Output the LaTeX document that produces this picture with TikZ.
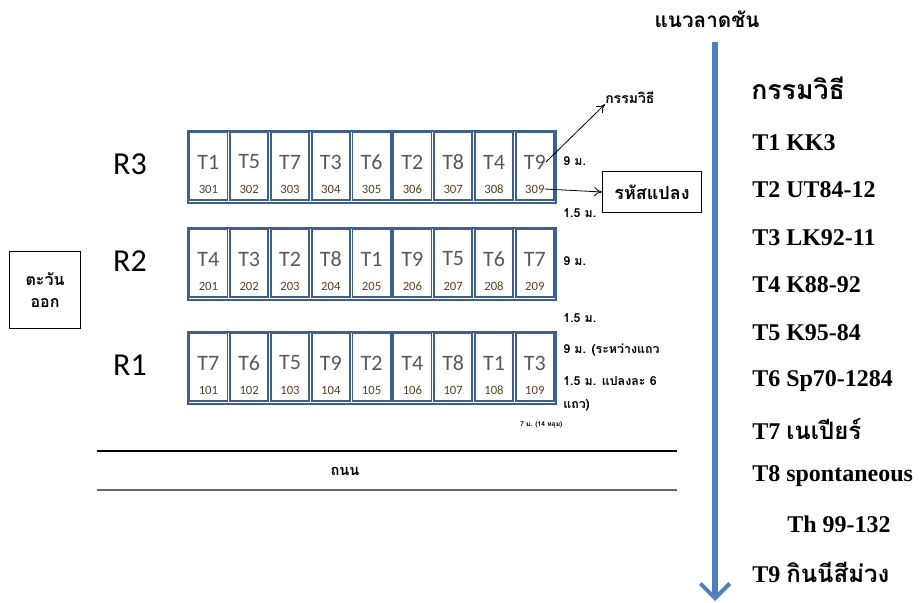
\documentclass[tikz,border=0pt]{standalone}
\usepackage{fontspec}
\setmainfont{Liberation Serif}
\newfontfamily\thaifont[Script=Thai]{Loma}
\newfontfamily\cellfont{Carlito}
\usetikzlibrary{arrows.meta}
\definecolor{cellblue}{RGB}{62,96,142}
\definecolor{slopeblue}{RGB}{79,129,189}
\definecolor{numbrown}{RGB}{95,62,30}
\definecolor{labgray}{RGB}{89,89,89}

\begin{document}
\begin{tikzpicture}[x=0.75pt, y=-0.75pt,
  rowbox/.style={draw=cellblue, line width=1.3pt, minimum width=276pt, minimum height=54pt,
                 inner sep=0pt, anchor=north west},
  cell/.style={draw=cellblue, line width=1.3pt, minimum width=28.6pt, minimum height=51pt,
               inner sep=0pt},
  tlab/.style={labgray, font=\cellfont\fontsize{16.5}{18}\selectfont, inner sep=0pt},
  nlab/.style={numbrown, font=\cellfont\fontsize{9.5}{11}\selectfont, inner sep=0pt},
  rlab/.style={font=\cellfont\fontsize{24}{26}\selectfont, inner sep=0pt},
  dist/.style={anchor=west, inner sep=0pt, font=\thaifont\bfseries\fontsize{9.3}{11}\selectfont},
  leg/.style={anchor=west, inner sep=0pt, font=\bfseries\fontsize{18}{20}\selectfont},
  thaibox/.style={draw, line width=0.8pt, align=center, inner sep=3pt},
  arr/.style={-{To[length=6pt,width=7pt]}, line width=0.6pt}]
\useasboundingbox (0,0) rectangle (921,603);

% แปลงทดลอง 3 แถว
\foreach \r/\top/\list in {3/130/{1,5,7,3,6,2,8,4,9},
                           2/227/{4,3,2,8,1,9,5,6,7},
                           1/331/{7,6,5,9,2,4,8,1,3}}{
  \node[rowbox] (row\r) at (187,\top) {};
  \node[rlab] (r\r) at (130,\top+34) {R\r};
  \foreach \t [count=\i] in \list{
    \node[cell] (c\r\i) at ({188+40.8*(\i-0.5)},\top+36) {};
    \node[tlab] (t\r\i) at ({188+40.8*(\i-0.5)},\top+32) {T\t};
    \node[nlab] (n\r\i) at ({188+40.8*(\i-0.5)},\top+59) {\r0\i};
  }
}

% ทิศตะวันออก
\node[thaibox, minimum width=53pt, minimum height=58pt,
      font=\thaifont\bfseries\fontsize{12}{17}\selectfont] (east) at (45,290) {ตะวัน\\ออก};

% ระยะ
\node[dist] (d1) at (563,161) {9 ม.};
\node[dist] (d2) at (563,213) {1.5 ม.};
\node[dist] (d3) at (563,261) {9 ม.};
\node[dist] (d4) at (563,318) {1.5 ม.};
\node[dist] (d5) at (563,350) {9 ม. (ระหว่างแถว};
\node[dist] (d6) at (563,381) {1.5 ม. แปลงละ 6};
\node[dist] (d7) at (563,405) {แถว)};
\node[dist, font=\thaifont\bfseries\fontsize{5}{6}\selectfont] (d8) at (520,425) {7 ม. (14 หลุม)};

% คำอธิบาย
\node[anchor=west, inner sep=0pt, font=\thaifont\bfseries\fontsize{10.5}{12}\selectfont] (trt) at (605,98) {กรรมวิธี};
\node[thaibox, minimum width=74pt, minimum height=31pt,
      font=\thaifont\bfseries\fontsize{13.5}{15}\selectfont] (code) at (652,192) {รหัสแปลง};
\draw[arr] (t39.east) -- (trt.south west);
\draw[arr] (n39.east) -- (code.west);

% ถนน
\coordinate (roadA) at (97,451);
\coordinate (roadB) at (677,451);
\coordinate (roadC) at (97,490);
\coordinate (roadD) at (677,490);
\draw[line width=0.8pt] (roadA) -- (roadB);
\draw[line width=1pt, gray!80!black] (roadC) -- (roadD);
\node[font=\thaifont\bfseries\fontsize{11}{13}\selectfont, inner sep=0pt] (road) at (345,471) {ถนน};

% แนวลาดชัน
\node[font=\thaifont\bfseries\fontsize{15.5}{17}\selectfont, inner sep=0pt] (slope) at (707,19) {แนวลาดชัน};
\coordinate (slopeA) at (715,42);
\coordinate (slopeB) at (715,601);
\draw[slopeblue, line width=3.8pt, -{Straight Barb[length=11pt,width=22pt,line width=3pt]}] (slopeA) -- (slopeB);

% กรรมวิธี
\node[anchor=west, inner sep=0pt, font=\thaifont\bfseries\fontsize{20}{22}\selectfont] (legt) at (751,88) {กรรมวิธี};
\node[leg] (leg1) at (752,143) {T1 KK3};
\node[leg] (leg2) at (752,190) {T2 UT84-12};
\node[leg] (leg3) at (752,238) {T3 LK92-11};
\node[leg] (leg4) at (752,285) {T4 K88-92};
\node[leg] (leg5) at (752,333) {T5 K95-84};
\node[leg] (leg6) at (752,381) {T6 Sp70-1284};
\node[leg] (leg7) at (752,429) {T7 {\thaifont เนเปียร์}};
\node[leg] (leg8) at (752,476) {T8 spontaneous};
\node[leg] (leg8b) at (787,524) {Th 99-132};
\node[leg] (leg9) at (752,572) {T9 {\thaifont กินนีสีม่วง}};
\end{tikzpicture}
\end{document}
